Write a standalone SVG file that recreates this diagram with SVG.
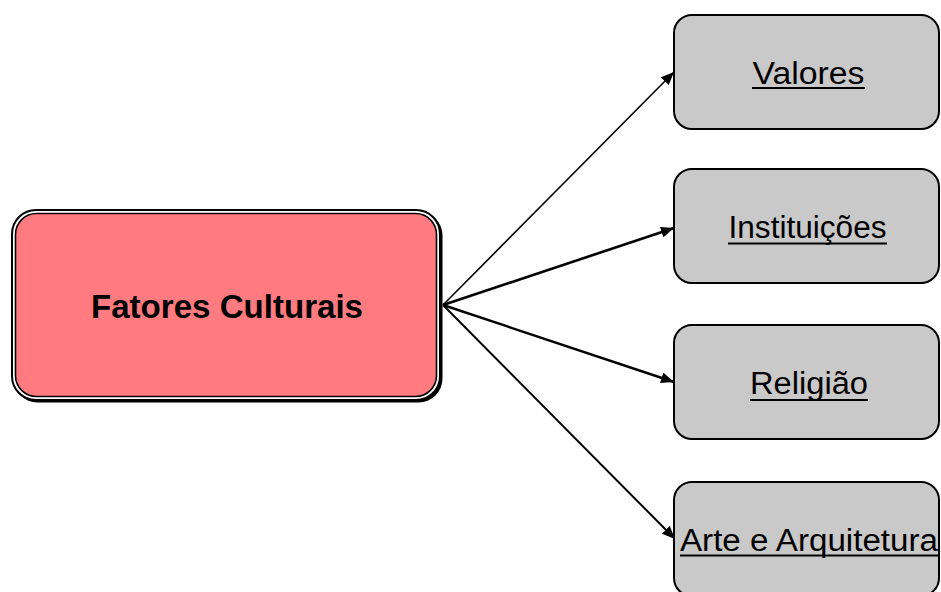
<svg xmlns="http://www.w3.org/2000/svg" width="941" height="592" viewBox="0 0 941 592">
  <style>
    .box { fill: #c9c9c9; stroke: #000; stroke-width: 2; }
    .lbl { font-family: "Liberation Sans", Arial, sans-serif; font-size: 31px; fill: #000; text-anchor: middle; }
    .ul { stroke: #000; stroke-width: 2.2; }
    .edge { stroke: #000; fill: none; marker-end: url(#head); }
  </style>
  <defs>
    <marker id="head" markerUnits="userSpaceOnUse" markerWidth="14" markerHeight="12" refX="13" refY="5.5" orient="auto">
      <path d="M0,0 L13,5.5 L0,11 Z" fill="#000"/>
    </marker>
  </defs>

  <rect width="941" height="592" fill="#fff"/>

  <!-- connectors -->
  <g id="connectors">
    <line class="edge" x1="443" y1="305" x2="674" y2="72" stroke-width="1.6"/>
    <line class="edge" x1="443" y1="305" x2="674" y2="228" stroke-width="2.6"/>
    <line class="edge" x1="443" y1="305" x2="674" y2="382" stroke-width="2.4"/>
    <line class="edge" x1="443" y1="305" x2="675" y2="539" stroke-width="2"/>
  </g>

  <!-- central node: double outline with a dark offset edge -->
  <g id="fatores-culturais">
    <rect x="13.5" y="211.5" width="429" height="191" rx="24" fill="#000"/>
    <rect x="12" y="210" width="428" height="190" rx="24" fill="#fff" stroke="#000" stroke-width="2"/>
    <rect x="15.5" y="213.5" width="421" height="183" rx="21" fill="#ff7b7f" stroke="#000" stroke-width="1.6"/>
    <text x="227" y="318" font-family="Liberation Sans, Arial, sans-serif" font-size="33" font-weight="bold" text-anchor="middle" textLength="272" lengthAdjust="spacingAndGlyphs">Fatores Culturais</text>
  </g>

  <g id="valores">
    <rect class="box" x="674" y="15" width="265" height="114" rx="18"/>
    <text class="lbl" x="808.5" y="84" textLength="112" lengthAdjust="spacingAndGlyphs">Valores</text>
    <line class="ul" x1="752" y1="88" x2="865" y2="88"/>
  </g>

  <g id="instituicoes">
    <rect class="box" x="674" y="169" width="265" height="114" rx="18"/>
    <text class="lbl" x="807.5" y="238" textLength="158" lengthAdjust="spacingAndGlyphs">Instituições</text>
    <line class="ul" x1="728" y1="243.5" x2="887" y2="243.5"/>
  </g>

  <g id="religiao">
    <rect class="box" x="674" y="325" width="265" height="114" rx="18"/>
    <text class="lbl" x="809" y="394" textLength="118" lengthAdjust="spacingAndGlyphs">Religião</text>
    <line class="ul" x1="750" y1="400" x2="868" y2="400"/>
  </g>

  <g id="arte-arquitetura">
    <rect class="box" x="674" y="482" width="265" height="114" rx="18"/>
    <text class="lbl" x="809" y="551" textLength="258" lengthAdjust="spacingAndGlyphs">Arte e Arquitetura</text>
    <line class="ul" x1="680" y1="555.5" x2="938" y2="555.5"/>
  </g>
</svg>
